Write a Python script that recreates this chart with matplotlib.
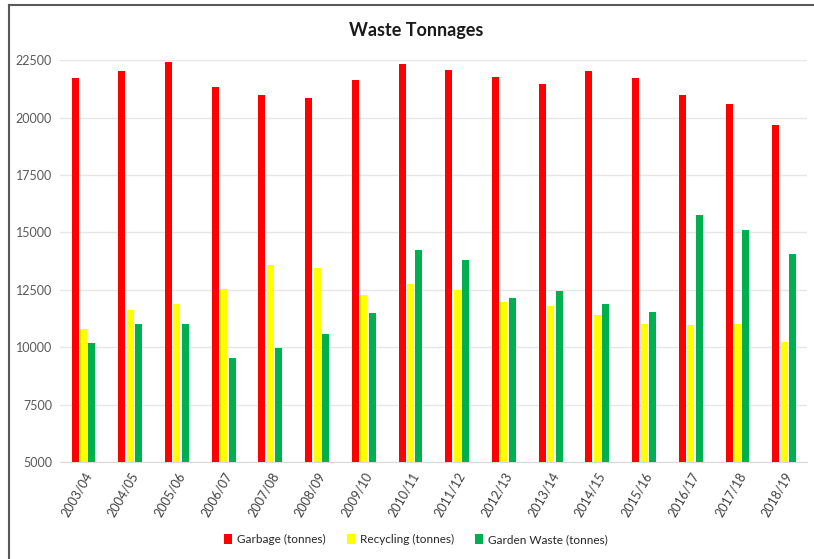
import matplotlib.pyplot as plt
import matplotlib.lines as mlines
import numpy as np

plt.rcParams['font.family'] = ['Lato', 'DejaVu Sans']

years = ['2003/04', '2004/05', '2005/06', '2006/07', '2007/08', '2008/09', '2009/10', '2010/11',
         '2011/12', '2012/13', '2013/14', '2014/15', '2015/16', '2016/17', '2017/18', '2018/19']
garbage = [21730, 22010, 22430, 21320, 20990, 20830, 21620, 22310,
           22090, 21760, 21450, 22030, 21700, 20960, 20570, 19670]
recycling = [10800, 11620, 11870, 12540, 13560, 13450, 12270, 12730,
             12510, 11970, 11800, 11380, 11030, 10970, 11030, 10230]
garden = [10190, 10990, 11020, 9510, 9950, 10580, 11470, 14220,
          13800, 12150, 12450, 11900, 11510, 15760, 15090, 14050]

fig = plt.figure(figsize=(8.14, 5.59), dpi=100)
ax = fig.add_axes([0.074, 0.1735, 0.918, 0.719])

x = np.arange(len(years))
w = 0.15
step = 0.18
ax.bar(x - step, garbage, w, color='#ff0000', label='Garbage (tonnes)', zorder=3)
ax.bar(x, recycling, w, color='#ffff00', label='Recycling (tonnes)', zorder=3)
ax.bar(x + step, garden, w, color='#00b050', label='Garden Waste (tonnes)', zorder=3)

ax.set_ylim(5000, 22500)
ax.set_xlim(-0.5, len(years) - 0.5)
ax.set_yticks(np.arange(5000, 22501, 2500))
ax.yaxis.grid(True, color='#e6e6e6', linewidth=1)
ax.set_axisbelow(True)
for s in ['top', 'right', 'left']:
    ax.spines[s].set_visible(False)
ax.spines['bottom'].set_color('#d9d9d9')
ax.tick_params(length=0)
ax.tick_params(axis='y', labelsize=9, labelcolor='#595959', pad=6)
ax.set_xticks(x)
ax.set_xticklabels(years, rotation=60, ha='right', rotation_mode='anchor',
                   fontsize=9, color='#404040')
ax.tick_params(axis='x', pad=6)

fig.text(0.511, 0.946, 'Waste Tonnages', ha='center', va='center',
         fontsize=13, fontweight='bold', color='#1a1a1a')

fig.legend(loc='center', bbox_to_anchor=(0.511, 0.035), ncol=3, frameon=False,
           fontsize=8.5, handlelength=0.7, handleheight=1.0, handletextpad=0.4,
           columnspacing=1.8, labelcolor='#262626')

# chart frame: top and left edges only
fx = 8.5 / 814
fy = 1 - 4.5 / 559
fig.lines.append(mlines.Line2D([fx, 1.0], [fy, fy], transform=fig.transFigure,
                               color='#595959', linewidth=1.5))
fig.lines.append(mlines.Line2D([fx, fx], [0.0, fy], transform=fig.transFigure,
                               color='#595959', linewidth=1.5))

fig.savefig('out.png', dpi=100)
